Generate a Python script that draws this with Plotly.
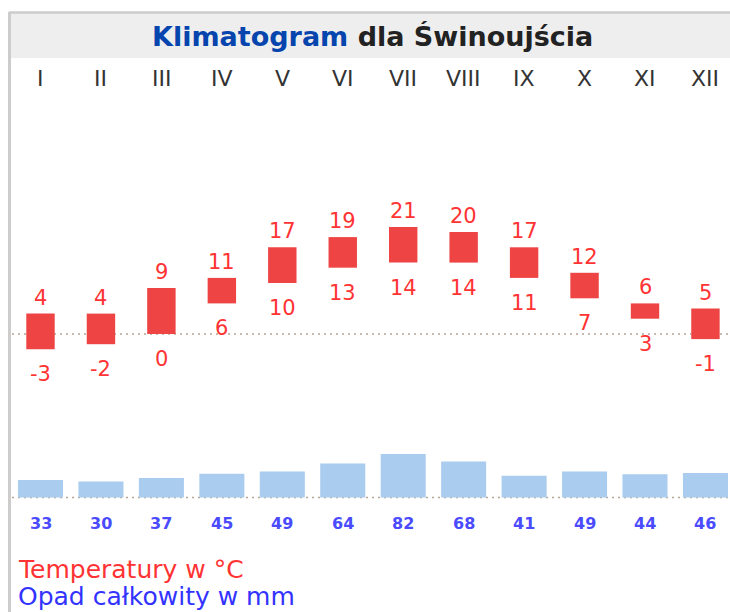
import plotly.graph_objects as go

# ---- data ----
months = ["I", "II", "III", "IV", "V", "VI", "VII", "VIII", "IX", "X", "XI", "XII"]
t_max = [4, 4, 9, 11, 17, 19, 21, 20, 17, 12, 6, 5]
t_min = [-3, -2, 0, 6, 10, 13, 14, 14, 11, 7, 3, -1]
precip = [33, 30, 37, 45, 49, 64, 82, 68, 41, 49, 44, 46]

title_link = "Klimatogram"
title_rest = "dla Świnoujścia"
legend_temp = "Temperatury w °C"
legend_prec = "Opad całkowity w mm"

# ---- layout helpers ----
W, H = 730, 612
FONT = "DejaVu Sans"


def py(p):
    return 1 - p / H


T_ZERO_PX, T_SCALE = 334.0, 5.1
P_ZERO_PX, P_SCALE = 497.5, 0.53
X0_PX, X_STEP = 40.5, 60.45

y_range = [(T_ZERO_PX - H) / T_SCALE, T_ZERO_PX / T_SCALE]
y2_range = [(P_ZERO_PX - H) / P_SCALE, P_ZERO_PX / P_SCALE]
x_range = [-X0_PX / X_STEP, (W - X0_PX) / X_STEP]

fig = go.Figure()

fig.add_trace(go.Bar(
    x=months, y=precip, yaxis="y2", width=0.745,
    marker=dict(color="#aaccee", line=dict(width=0)),
    hoverinfo="skip", showlegend=False,
))
fig.add_trace(go.Bar(
    x=months, y=[a - b for a, b in zip(t_max, t_min)], base=t_min,
    width=0.47, marker=dict(color="#ee4444", line=dict(width=0)),
    hoverinfo="skip", showlegend=False,
))

annotations = []
# title
annotations.append(dict(
    text=f"<b><span style='color:#0645ad'>{title_link}</span> {title_rest}</b>",
    xref="paper", yref="paper", x=373 / W, y=py(36), xanchor="center", yanchor="middle",
    showarrow=False, font=dict(family=FONT, size=27, color="#222222"),
))
# month labels
for m in months:
    annotations.append(dict(
        text=m, x=m, xref="x", yref="paper", y=py(78), xanchor="center", yanchor="middle",
        showarrow=False, font=dict(family=FONT, size=22, color="#333333"),
    ))
# temperature labels
for m, hi, lo in zip(months, t_max, t_min):
    annotations.append(dict(
        text=str(hi), x=m, y=hi, xref="x", yref="y", yshift=16, yanchor="middle",
        showarrow=False, font=dict(family=FONT, size=21, color="#ff3333"),
    ))
    annotations.append(dict(
        text=str(lo), x=m, y=lo, xref="x", yref="y", yshift=-25, yanchor="middle",
        showarrow=False, font=dict(family=FONT, size=21, color="#ff3333"),
    ))
# precipitation labels
for m, p in zip(months, precip):
    annotations.append(dict(
        text=f"<b>{p}</b>", x=m, y=0, xref="x", yref="y2", yshift=-25.5, yanchor="middle",
        showarrow=False, font=dict(family=FONT, size=16, color="#4a4aff"),
    ))
# legend texts
annotations.append(dict(
    text=legend_temp, xref="paper", yref="paper", x=16 / W, y=py(569),
    xanchor="left", yanchor="middle", showarrow=False,
    font=dict(family=FONT, size=25, color="#ff3333"),
))
annotations.append(dict(
    text=legend_prec, xref="paper", yref="paper", x=16 / W, y=py(596),
    xanchor="left", yanchor="middle", showarrow=False,
    font=dict(family=FONT, size=25, color="#3333ff"),
))

dot = dict(color="#b5a595", width=1.5, dash="2px,4px")
shapes = [
    dict(type="rect", xref="paper", yref="paper", x0=10 / W, x1=1, y0=py(58), y1=py(12),
         fillcolor="#eeeeee", line=dict(width=0), layer="below"),
    dict(type="line", xref="paper", yref="paper", x0=9 / W, x1=1, y0=py(12.5), y1=py(12.5),
         line=dict(color="#cccccc", width=2.5), layer="above"),
    dict(type="line", xref="paper", yref="paper", x0=9.5 / W, x1=9.5 / W, y0=0, y1=py(12),
         line=dict(color="#cccccc", width=3), layer="above"),
    dict(type="line", xref="paper", yref="y", x0=12 / W, x1=1, y0=0, y1=0,
         line=dot, layer="below"),
    dict(type="line", xref="paper", yref="y2", x0=12 / W, x1=1, y0=0, y1=0,
         line=dot, layer="below"),
]

fig.update_layout(
    width=W, height=H, margin=dict(l=0, r=0, t=0, b=0),
    paper_bgcolor="white", plot_bgcolor="rgba(0,0,0,0)",
    barmode="overlay", showlegend=False,
    xaxis=dict(range=x_range, visible=False, fixedrange=True),
    yaxis=dict(range=y_range, visible=False, fixedrange=True),
    yaxis2=dict(range=y2_range, visible=False, overlaying="y", fixedrange=True),
    annotations=annotations, shapes=shapes,
)

fig.write_html(
    "out.html",
    config={"displayModeBar": False},
    post_script="document.body.style.margin='0';document.body.style.overflow='hidden';",
)
